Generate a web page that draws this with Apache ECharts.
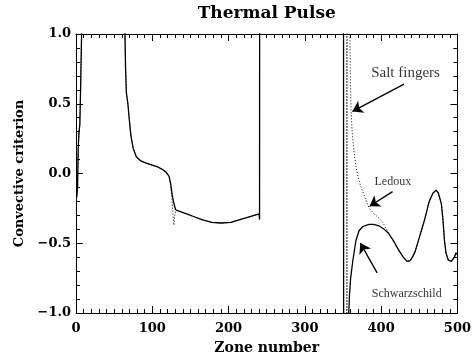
<!DOCTYPE html>
<html>
<head>
<meta charset="utf-8">
<script src="https://cdn.jsdelivr.net/npm/echarts@6/dist/echarts.min.js"></script>
<style>html,body{margin:0;padding:0;background:#fff;}#c{width:474px;height:360px;}</style>
</head>
<body>
<div id="c"></div>
<script>
// Schwarzschild criterion (solid)
const zoneS = [1,2,3,4,5,6,7,8,9,63,64,65,66,68,70,72,75,79,85,92,100,108,113,118,122,124,126,128,130.6,135,145,155,165,178,190,203,215,228,240,240.6,241,350.5,351,356.5,357.2,358.5,360,363,367,371,376,384,390,397,404,410,417,423,429,434,438,441,444.5,450,457,463,468,472,475,479,481,483,485,488,492,496,498,500];
const critS = [-0.17,-0.1,0.2,0.3,0.35,0.6,0.9,1.2,5,5,1.05,0.75,0.58,0.5,0.38,0.27,0.18,0.12,0.09,0.075,0.06,0.045,0.03,0.01,-0.02,-0.07,-0.15,-0.21,-0.26,-0.27,-0.29,-0.31,-0.33,-0.35,-0.355,-0.35,-0.33,-0.31,-0.29,-0.33,5,5,-5,-5,-1.05,-0.87,-0.75,-0.62,-0.48,-0.41,-0.38,-0.365,-0.365,-0.375,-0.4,-0.43,-0.49,-0.55,-0.6,-0.63,-0.625,-0.6,-0.56,-0.46,-0.33,-0.2,-0.14,-0.12,-0.14,-0.22,-0.33,-0.48,-0.57,-0.62,-0.63,-0.6,-0.57,-0.58];
// Ledoux criterion (dotted)
const zoneL = [1,2,3,4,5,6,7,8,9,63,64,65,66,68,70,72,75,79,85,92,100,108,113,118,122,124,126,127.5,128.4,129.5,131,135,145,155,165,178,190,203,215,228,240,240.6,241,354.6,355,355.4,355.8,358.6,359,359.6,360.6,362,363,365,367,370,373,376,380,384,390,397,402,406,410,417,423,429,434,438,441,444.5,450,457,463,468,472,475,479,481,483,485,488,492,496,498,500];
const critL = [-0.17,-0.1,0.2,0.3,0.35,0.6,0.9,1.2,5,5,1.05,0.75,0.58,0.5,0.38,0.27,0.18,0.12,0.09,0.075,0.06,0.045,0.03,0.01,-0.02,-0.08,-0.2,-0.33,-0.37,-0.3,-0.265,-0.27,-0.29,-0.31,-0.33,-0.35,-0.355,-0.35,-0.33,-0.31,-0.29,-0.33,5,5,-5,-5,5,5,1.05,0.7,0.44,0.3,0.24,0.13,0.05,-0.03,-0.09,-0.13,-0.19,-0.245,-0.285,-0.32,-0.35,-0.39,-0.43,-0.49,-0.55,-0.6,-0.63,-0.625,-0.6,-0.56,-0.46,-0.33,-0.2,-0.14,-0.12,-0.14,-0.22,-0.33,-0.48,-0.57,-0.62,-0.63,-0.6,-0.57,-0.58];
// tick labels
const xTicks = [0,100,200,300,400,500];
const yTicks = [-1.0,-0.5,0.0,0.5,1.0];
// annotations: text, position [zone, criterion]
const noteText = ['Salt fingers','Ledoux','Schwarzschild'];
const notePos = [[432,0.72],[415.3,-0.062],[433.5,-0.86]];
const noteSize = [15,12,12];
// arrows: tail -> head
const arrowTail = [[430,0.64],[415,-0.13],[394.7,-0.713]];
const arrowHead = [[362.4,0.445],[384.8,-0.235],[372.7,-0.498]];

const idlFont = 'DejaVu Serif';
const pairs = (xs, ys) => xs.map((x, i) => [x, ys[i]]);
const fmtY = v => (v < 0 ? '\u2212' : '') + Math.abs(v).toFixed(1);
const X0 = xTicks[0], X1 = xTicks[xTicks.length - 1];
const Y0 = yTicks[0], Y1 = yTicks[yTicks.length - 1];

function axisBase(pos, minorSplit) {
  return {
    position: pos,
    axisLine: {show: true, onZero: false, lineStyle: {color: '#000', width: 1}},
    axisTick: {show: true, inside: true, length: 7, lineStyle: {color: '#000', width: 1}},
    minorTick: {show: true, splitNumber: minorSplit, length: 4, lineStyle: {color: '#000', width: 1}},
    splitLine: {show: false}
  };
}

const chart = echarts.init(document.getElementById('c'), null, {renderer: 'canvas'});
chart.setOption({
  animation: false,
  backgroundColor: '#fff',
  grid: {left: 76, right: 12, top: 26, bottom: 44},
  xAxis: [
    Object.assign(axisBase('bottom', 10), {
      type: 'value', min: X0, max: X1, interval: 100,
      name: 'Zone number', nameLocation: 'middle', nameGap: 28,
      nameTextStyle: {fontFamily: idlFont, fontSize: 14, fontWeight: 'bold', color: '#000'},
      axisLabel: {margin: 9, fontFamily: idlFont, fontSize: 13, fontWeight: 'bold', color: '#000',
        formatter: v => xTicks.includes(v) ? String(v) : ''}
    }),
    Object.assign(axisBase('top', 10), {
      type: 'value', min: X0, max: X1, interval: 100,
      name: 'Thermal Pulse', nameLocation: 'middle', nameGap: 12,
      nameTextStyle: {fontFamily: idlFont, fontSize: 17, fontWeight: 'bold', color: '#000'},
      axisLabel: {show: false}
    })
  ],
  yAxis: [
    Object.assign(axisBase('left', 5), {
      type: 'value', min: Y0, max: Y1, interval: 0.5,
      name: 'Convective criterion', nameLocation: 'middle', nameGap: 44,
      nameTextStyle: {fontFamily: idlFont, fontSize: 13, fontWeight: 'bold', color: '#000'},
      axisLabel: {margin: 5, fontFamily: idlFont, fontSize: 13, fontWeight: 'bold', color: '#000',
        formatter: v => fmtY(v)}
    }),
    Object.assign(axisBase('right', 5), {
      type: 'value', min: Y0, max: Y1, interval: 0.5,
      axisLabel: {show: false}
    })
  ],
  series: [
    {
      name: 'Ledoux', type: 'line', data: pairs(zoneL, critL), showSymbol: false, symbol: 'none',
      clip: true, lineStyle: {color: '#000', width: 1, type: [1, 2]}, z: 2
    },
    {
      name: 'Schwarzschild', type: 'line', data: pairs(zoneS, critS), showSymbol: false, symbol: 'none',
      clip: true, lineStyle: {color: '#000', width: 1.3}, z: 3
    },
    {
      name: 'arrows', type: 'line', data: [], z: 4,
      markLine: {
        silent: true, animation: false,
        symbol: ['none', 'arrow'], symbolSize: 10,
        label: {show: false},
        lineStyle: {color: '#000', width: 1.4, type: 'solid'},
        emphasis: {disabled: true},
        data: arrowTail.map((t, i) => [{coord: t, symbol: 'none'}, {coord: arrowHead[i], symbol: 'arrow', symbolSize: 10}])
      }
    },
    {
      name: 'notes', type: 'scatter', symbolSize: 1, itemStyle: {color: 'rgba(0,0,0,0)'},
      data: notePos.map((p, i) => ({value: p, name: noteText[i],
        label: {fontSize: noteSize[i]}})),
      label: {show: true, position: 'inside', formatter: p => p.name,
        fontFamily: 'Liberation Serif', color: '#000'},
      z: 5
    }
  ]
});
</script>
</body>
</html>
